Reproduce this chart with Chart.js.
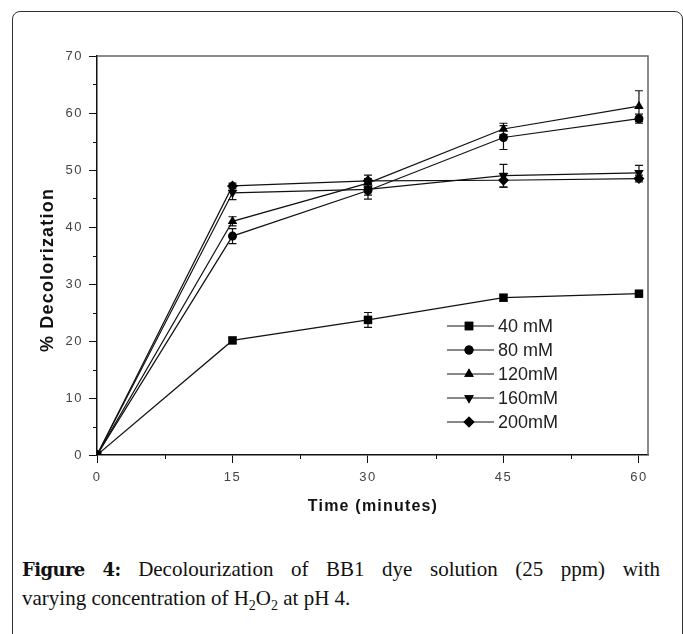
<!DOCTYPE html>
<html>
<head>
<meta charset="utf-8">
<script src="https://cdn.jsdelivr.net/npm/chart.js@4.4.1/dist/chart.umd.min.js"></script>
<style>
  html, body { margin: 0; padding: 0; background: #fff; width: 683px; height: 634px; overflow: hidden; }
  #frame { position: absolute; left: 12px; top: 11px; width: 669px; height: 700px; border: 1.5px solid #333; border-radius: 8px; }
  #chart { position: absolute; left: 0; top: 0; }
  #caption { position: absolute; left: 22px; top: 555px; width: 638px; font-family: "Liberation Serif", "Times New Roman", serif; font-size: 21px; line-height: 29px; color: #111; }
  #caption .l1 { text-align: justify; text-align-last: justify; white-space: nowrap; }
  #caption b { font-family: "DejaVu Serif", serif; font-size: 18px; letter-spacing: -0.6px; }
  sub { font-size: 14px; line-height: 0; }
</style>
</head>
<body>
<div id="frame"></div>
<canvas id="chart" width="683" height="530"></canvas>
<div id="caption"><div class="l1"><b>Figure 4:</b> Decolourization of BB1 dye solution (25 ppm) with</div><div>varying concentration of H<sub>2</sub>O<sub>2</sub> at pH 4.</div></div>
<script>
// datos
const tiempos = [0, 15, 30, 45, 60];
const etiquetas = ['40 mM', '80 mM', '120mM', '160mM', '200mM'];
const d40  = [0, 20.1, 23.7, 27.6, 28.3];
const d80  = [0, 38.4, 46.4, 55.7, 59.0];
const d120 = [0, 41.0, 47.7, 57.2, 61.2];
const d160 = [0, 46.0, 46.6, 49.0, 49.5];
const d200 = [0, 47.2, 48.1, 48.2, 48.5];
const e40  = [0, 0.5, 1.3, 0.5, 0.3];
const e80  = [0, 1.3, 1.5, 2.1, 0.8];
const e120 = [0, 0.8, 0.8, 1.0, 2.7];
const e160 = [0, 1.2, 1.0, 2.0, 1.3];
const e200 = [0, 0.5, 1.0, 1.2, 0.6];
const marcas = ['rect', 'circle', 'triangle', 'triangle', 'rectRot'];
const giros = [0, 0, 0, 180, 0];
const radios = [6, 4.5, 5.5, 5.5, 5.5];

const series = [d40, d80, d120, d160, d200];
const errores = [e40, e80, e120, e160, e200];

const datasets = series.map((s, i) => ({
    label: etiquetas[i],
    data: s.map((v, k) => ({ x: tiempos[k], y: v })),
    errores: errores[i],
    borderColor: '#111', backgroundColor: '#000', borderWidth: 1.2,
    pointStyle: marcas[i], rotation: giros[i], pointRadius: radios[i],
    pointBorderWidth: 0, tension: 0
}));

// barras de error + marco + ticks menores + titulos + leyenda
const extras = {
    id: 'extras',
    beforeDraw(chart) {
        chart.ctx.letterSpacing = '1.5px';
    },
    beforeDatasetsDraw(chart) {
        const { ctx, scales: { x, y } } = chart;
        ctx.save();
        ctx.strokeStyle = '#111'; ctx.lineWidth = 1.2;
        chart.data.datasets.forEach(ds => {
            ds.data.forEach((p, k) => {
                const e = ds.errores[k]; if (!e) return;
                const px = x.getPixelForValue(p.x);
                const top = y.getPixelForValue(p.y + e), bot = y.getPixelForValue(p.y - e);
                ctx.beginPath();
                ctx.moveTo(px, top); ctx.lineTo(px, bot);
                ctx.moveTo(px - 4, top); ctx.lineTo(px + 4, top);
                ctx.moveTo(px - 4, bot); ctx.lineTo(px + 4, bot);
                ctx.stroke();
            });
        });
        ctx.restore();
    },
    afterDraw(chart) {
        const { ctx, chartArea: a, scales: { x, y } } = chart;
        ctx.save();
        ctx.strokeStyle = '#666'; ctx.lineWidth = 1.5;
        ctx.beginPath();
        ctx.moveTo(a.left, a.top); ctx.lineTo(a.right, a.top); ctx.lineTo(a.right, a.bottom);
        ctx.stroke();
        ctx.strokeStyle = '#111'; ctx.lineWidth = 1;
        ctx.beginPath();
        for (let v = 5; v < 70; v += 10) {
            const py = Math.round(y.getPixelForValue(v)) + 0.5;
            ctx.moveTo(a.left - 4, py); ctx.lineTo(a.left, py);
        }
        for (let v = 7.5; v < 60; v += 15) {
            const px = Math.round(x.getPixelForValue(v)) + 0.5;
            ctx.moveTo(px, a.bottom); ctx.lineTo(px, a.bottom + 4);
        }
        ctx.stroke();
        // titulos de ejes
        ctx.fillStyle = '#111';
        ctx.textAlign = 'center'; ctx.textBaseline = 'middle';
        ctx.letterSpacing = '1.2px';
        ctx.font = 'bold 16px "Liberation Sans", Arial, sans-serif';
        ctx.fillText('Time (minutes)', 373, 507);
        ctx.save();
        ctx.translate(48, 270); ctx.rotate(-Math.PI / 2);
        ctx.letterSpacing = '1.2px';
        ctx.font = 'bold 18px "Liberation Sans", Arial, sans-serif';
        ctx.fillText('% Decolorization', 0, 0);
        ctx.restore();
        // leyenda
        ctx.letterSpacing = '0px';
        ctx.textAlign = 'left';
        ctx.font = '18px "Liberation Sans", Arial, sans-serif';
        chart.data.datasets.forEach((ds, i) => {
            const ly = 326 + 24 * i;
            ctx.strokeStyle = '#111'; ctx.lineWidth = 1.2;
            ctx.beginPath(); ctx.moveTo(447, ly); ctx.lineTo(494, ly); ctx.stroke();
            ctx.fillStyle = '#000';
            Chart.helpers.drawPoint(ctx, { pointStyle: ds.pointStyle, rotation: ds.rotation, radius: ds.pointRadius, borderWidth: 0 }, 469, ly);
            ctx.fill();
            ctx.fillStyle = '#222';
            ctx.fillText(ds.label, 498, ly + 1);
        });
        ctx.restore();
    }
};

new Chart(document.getElementById('chart'), {
    type: 'line',
    data: { datasets },
    plugins: [extras],
    options: {
        responsive: false, animation: false,
        layout: { padding: { left: 30, top: 56, right: 35, bottom: 0 } },
        plugins: { legend: { display: false }, tooltip: { enabled: false } },
        scales: {
            x: {
                type: 'linear', min: 0, max: 61,
                afterFit: s => { s.height = 75; },
                ticks: { stepSize: 15, includeBounds: false, color: '#444', padding: 7, font: { family: 'Liberation Sans', size: 13 } },
                grid: { drawOnChartArea: false, drawTicks: true, tickLength: 8, color: '#111', tickWidth: 1 },
                border: { display: true, color: '#111', width: 1.5 },
                title: { display: false }
            },
            y: {
                min: 0, max: 70,
                afterFit: s => { s.width = 67; },
                ticks: { stepSize: 10, color: '#444', padding: 6, font: { family: 'Liberation Sans', size: 13 } },
                grid: { drawOnChartArea: false, drawTicks: true, tickLength: 8, color: '#111', tickWidth: 1 },
                border: { display: true, color: '#111', width: 1.5 },
                title: { display: false }
            }
        }
    }
});
</script>
</body>
</html>
